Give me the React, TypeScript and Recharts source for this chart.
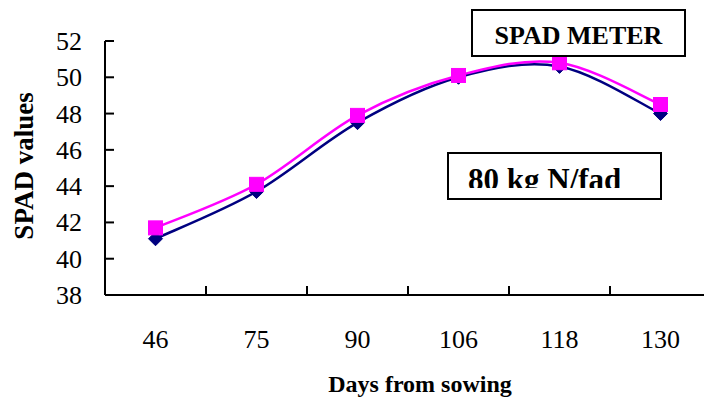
import React from 'react';
import { LineChart, Line, XAxis, YAxis } from 'recharts';

const days = ['46', '75', '90', '106', '118', '130'];
const seriesA = [41.1, 43.7, 47.5, 50.0, 50.6, 48.0];
const seriesB = [41.7, 44.1, 47.9, 50.1, 50.8, 48.5];
const yTicks = [38, 40, 42, 44, 46, 48, 50, 52];

const data = days.map((d, i) => ({ day: d, a: seriesA[i], b: seriesB[i] }));

const FONT = 'Liberation Serif';
const CHART_W = 712;
const PLOT_LEFT = 105;
const PLOT_RIGHT = CHART_W - 1;
const BAND = (PLOT_RIGHT - PLOT_LEFT) / days.length;

function smoothCurve(context: any) {
  let pts: [number, number][] = [];
  return {
    areaStart() {},
    areaEnd() {},
    lineStart() {
      pts = [];
    },
    lineEnd() {
      const n = pts.length;
      if (!n) return;
      context.moveTo(pts[0][0], pts[0][1]);
      for (let i = 0; i < n - 1; i++) {
        const p0 = pts[Math.max(i - 1, 0)];
        const p1 = pts[i];
        const p2 = pts[i + 1];
        const p3 = pts[Math.min(i + 2, n - 1)];
        context.bezierCurveTo(
          p1[0] + (p2[0] - p0[0]) / 6,
          p1[1] + (p2[1] - p0[1]) / 6,
          p2[0] - (p3[0] - p1[0]) / 6,
          p2[1] - (p3[1] - p1[1]) / 6,
          p2[0],
          p2[1]
        );
      }
    },
    point(x: number, y: number) {
      pts.push([x, y]);
    },
  };
}

const YTick = (props: any) => {
  const { x, y, payload } = props;
  return (
    <g>
      <line x1={x} x2={x + 9} y1={y} y2={y} stroke="#000" strokeWidth={2} />
      <text x={x - 23} y={y + 9} textAnchor="end" fontFamily={FONT} fontSize={26} fill="#000">
        {payload.value}
      </text>
    </g>
  );
};

const XTick = (props: any) => {
  const { x, y, payload, index } = props;
  return (
    <g>
      {index < days.length - 1 && (
        <line x1={x + BAND / 2} x2={x + BAND / 2} y1={y} y2={y - 9} stroke="#000" strokeWidth={2} />
      )}
      <text x={x} y={y + 53} textAnchor="middle" fontFamily={FONT} fontSize={26} fill="#000">
        {payload.value}
      </text>
    </g>
  );
};

const Diamond = (props: any) => {
  const { cx, cy } = props;
  if (cx == null || cy == null) return null;
  const s = 7;
  return (
    <polygon
      points={`${cx},${cy - s} ${cx + s},${cy} ${cx},${cy + s} ${cx - s},${cy}`}
      fill="#000080"
      stroke="#000080"
    />
  );
};

const Square = (props: any) => {
  const { cx, cy } = props;
  if (cx == null || cy == null) return null;
  const s = 7;
  return <rect x={cx - s} y={cy - s} width={2 * s} height={2 * s} fill="#FF00FF" stroke="#FF00FF" />;
};

export default function App() {
  return (
    <div
      style={{
        position: 'absolute',
        left: 0,
        top: 0,
        width: 704,
        height: 400,
        overflow: 'hidden',
        background: '#fff',
        fontFamily: FONT,
      }}
    >
      <LineChart
        width={CHART_W}
        height={400}
        data={data}
        margin={{ top: 41, right: 1, left: 0, bottom: 45 }}
        style={{ fontFamily: FONT }}
      >
        <XAxis
          dataKey="day"
          scale="band"
          height={60}
          tickSize={0}
          tickMargin={0}
          tick={<XTick />}
          interval={0}
          axisLine={{ stroke: '#000', strokeWidth: 2 }}
          tickLine={false}
          label={{
            content: () => (
              <text x={420} y={392} textAnchor="middle" fontFamily={FONT} fontWeight="bold" fontSize={24} fill="#000">
                Days from sowing
              </text>
            ),
          }}
        />
        <YAxis
          width={105}
          domain={[38, 52]}
          ticks={yTicks}
          type="number"
          allowDataOverflow
          tickSize={0}
          tickMargin={0}
          tick={<YTick />}
          interval={0}
          axisLine={{ stroke: '#000', strokeWidth: 2 }}
          tickLine={false}
          label={{
            content: () => (
              <text
                x={33}
                y={166}
                transform="rotate(-90, 33, 166)"
                textAnchor="middle"
                fontFamily={FONT}
                fontWeight="bold"
                fontSize={27}
                fill="#000"
              >
                SPAD values
              </text>
            ),
          }}
        />
        <Line
          dataKey="a"
          type={smoothCurve as any}
          stroke="#000080"
          strokeWidth={2.5}
          dot={<Diamond />}
          activeDot={false}
          isAnimationActive={false}
        />
        <Line
          dataKey="b"
          type={smoothCurve as any}
          stroke="#FF00FF"
          strokeWidth={2.5}
          dot={<Square />}
          activeDot={false}
          isAnimationActive={false}
        />
      </LineChart>
      <div
        style={{
          position: 'absolute',
          left: 471,
          top: 9,
          width: 215,
          height: 48,
          border: '2px solid #000',
          boxSizing: 'border-box',
          background: '#fff',
          fontFamily: FONT,
          fontWeight: 'bold',
          fontSize: 26,
        }}
      >
        <div style={{ position: 'absolute', left: 0, right: 0, top: 12, lineHeight: '26px', textAlign: 'center', whiteSpace: 'nowrap' }}>
          SPAD METER
        </div>
      </div>
      <div
        style={{
          position: 'absolute',
          left: 447,
          top: 152,
          width: 215,
          height: 48,
          border: '2px solid #000',
          boxSizing: 'border-box',
          background: '#fff',
          fontFamily: FONT,
          fontWeight: 'bold',
          fontSize: 31,
        }}
      >
        <div style={{ position: 'absolute', left: 0, right: 0, top: 0, height: 34, overflow: 'hidden' }}>
          <div style={{ position: 'absolute', left: 19, top: 10, lineHeight: '31px', whiteSpace: 'nowrap' }}>
            80 kg N/fad
          </div>
        </div>
      </div>
    </div>
  );
}
